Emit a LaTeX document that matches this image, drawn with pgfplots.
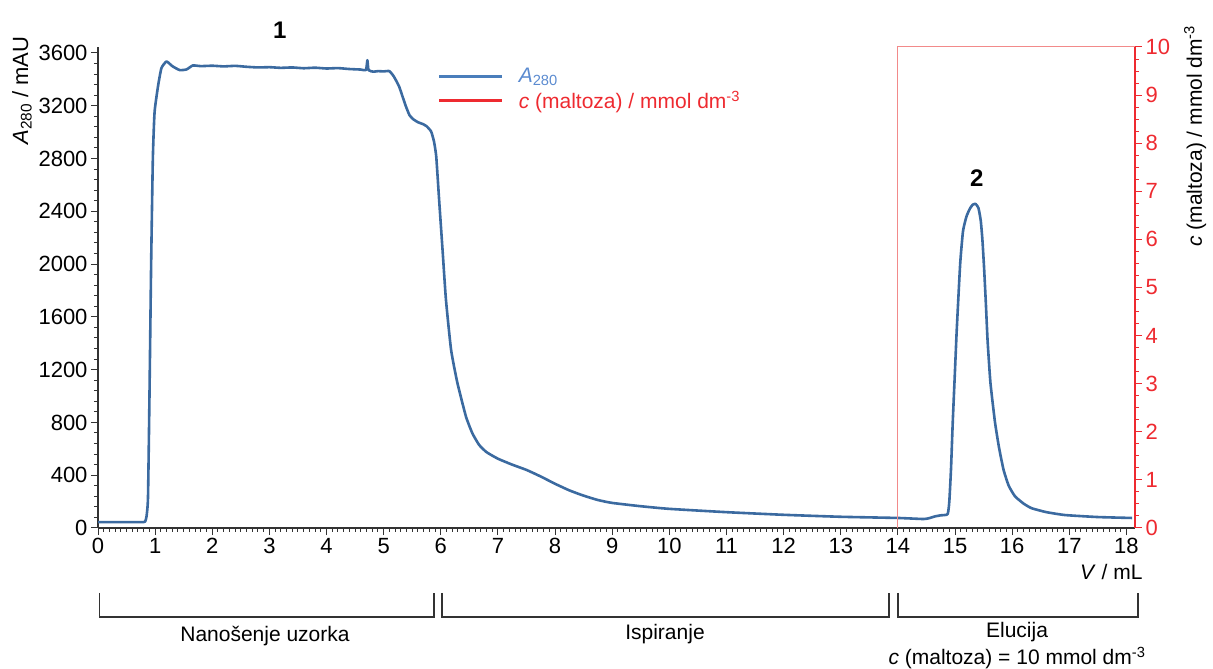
\documentclass[border=0pt]{standalone}
\usepackage{fontspec}
\setmainfont{Liberation Sans}
\usepackage{pgfplots}
\pgfplotsset{compat=1.18}
\usepackage{xcolor}

\definecolor{trace}{HTML}{3B6AA0}
\definecolor{legblue}{HTML}{4A7EBB}
\definecolor{legbluetext}{HTML}{5B8BD0}
\definecolor{cred}{HTML}{EE2A30}
\definecolor{boxred}{HTML}{F28A8A}
\definecolor{axgray}{HTML}{333333}

\newcommand{\ticksize}{\fontsize{22bp}{26bp}\selectfont}
\newcommand{\labsize}{\fontsize{21bp}{25bp}\selectfont}

% A280 trace (V / mL, A / mAU)
\pgfplotstableread{
V A
0 45
0.4 45
0.8 45
0.83 55
0.85 90
0.875 230
0.9 970
0.93 2000
0.96 2800
0.99 3150
1.05 3346
1.11 3485
1.2 3535
1.3 3500
1.43 3470
1.55 3475
1.66 3505
1.8 3500
2.0 3503
2.2 3498
2.4 3502
2.6 3495
2.8 3490
3.0 3492
3.2 3487
3.4 3490
3.6 3484
3.8 3488
4.0 3482
4.2 3485
4.4 3478
4.6 3474
4.69 3470
4.715 3545
4.735 3470
4.82 3458
4.9 3462
5.0 3460
5.1 3462
5.18 3420
5.27 3346
5.33 3270
5.39 3194
5.45 3130
5.51 3100
5.6 3075
5.68 3062
5.75 3045
5.83 3005
5.88 2930
5.92 2815
5.97 2490
6.03 2110
6.09 1730
6.18 1350
6.29 1100
6.44 845
6.55 720
6.67 630
6.8 575
7.0 525
7.25 480
7.5 440
7.75 390
8.0 335
8.25 285
8.5 245
8.75 212
9.0 190
9.5 165
10 145
11 120
12 100
13 85
14 76
14.45 68
14.55 75
14.65 88
14.75 96
14.87 105
14.9 200
14.93 450
14.96 800
15.0 1200
15.03 1500
15.09 2000
15.14 2250
15.2 2360
15.26 2420
15.31 2450
15.36 2456
15.41 2425
15.45 2330
15.48 2180
15.51 1960
15.54 1700
15.57 1420
15.62 1100
15.7 800
15.77 610
15.85 440
15.94 320
16.05 240
16.2 185
16.34 150
16.6 120
16.93 98
17.5 83
18.1 76
}\absdata

\begin{document}
\begin{tikzpicture}
\pgfplotsset{
  base/.style={
    scale only axis,
    width=1037bp, height=481bp,
    at={(98bp,141bp)}, anchor=south west,
    xmin=0, xmax=18.15,
    tick align=outside,
    major tick length=7bp,
    minor tick length=4bp,
    /pgf/number format/assume math mode=true,
    /pgf/number format/1000 sep={},
    scaled ticks=false,
    tick label style={font=\ticksize},
    label style={font=\labsize},
  },
}

% left axis: absorbance
\begin{axis}[
  base,
  axis x line*=bottom,
  axis y line*=left,
  axis line style={color=axgray, line width=1.2bp},
  tick style={color=axgray, line width=1bp},
  ymin=0, ymax=3645,
  xtick={0,...,18},
  minor x tick num=9,
  ytick={0,400,...,3600},
  minor y tick num=4,
  xlabel={\textit{V} / mL},
  xlabel style={at={(axis description cs:1.0106,-0.092)}, anchor=east},
  ylabel={\textit{A}\textsubscript{280} / mAU},
  ylabel style={at={(axis description cs:-0.0733,1.029)}, anchor=east, font=\fontsize{22bp}{26bp}\selectfont},
  clip mode=individual,
]
\addplot[color=trace, line width=2.6bp, line join=round, smooth, tension=0.3] table[x=V, y=A] {\absdata};
\node[font=\fontsize{24bp}{28bp}\selectfont\bfseries] at (axis cs:3.18,3774) {1};
\node[font=\fontsize{24bp}{28bp}\selectfont\bfseries] at (axis cs:15.38,2653) {2};
\end{axis}

% right axis: maltose concentration
\begin{axis}[
  base,
  axis x line=none,
  axis y line*=right,
  axis line style={color=cred, line width=1.2bp},
  tick style={color=cred, line width=1bp},
  yticklabel style={color=cred},
  ymin=0, ymax=10,
  ytick={0,...,10},
  minor y tick num=3,
  ylabel={\textit{c} (maltoza) / mmol dm\textsuperscript{-3}},
  ylabel style={at={(axis description cs:1.058,1.052)}, anchor=east},
  legend cell align=left,
  legend style={
    at={(axis description cs:0.327,0.958)}, anchor=north west,
    draw=none, fill=none, inner sep=0pt, row sep=4.5bp,
    font=\labsize,
    nodes={inner sep=1bp},
  },
  legend image code/.code={\draw[#1] (0bp,0bp) -- (63bp,0bp);},
  /tikz/every odd column/.append style={column sep=14bp},
]
\addlegendimage{color=legblue, line width=3.5bp}
\addlegendentry{\textcolor{legbluetext}{\textit{A}\textsubscript{280}}}
\addplot[color=boxred, line width=1bp, forget plot] coordinates {(14,0) (14,10) (18.15,10)};
\addlegendimage{color=cred, line width=3.5bp}
\addlegendentry{\textcolor{cred}{\textit{c} (maltoza) / mmol dm\textsuperscript{-3}}}
\end{axis}

% phase brackets under the V axis
\draw[color=axgray, line width=1.5bp]
  (99.5bp,76bp) -- (99.5bp,52bp) -- (434bp,52bp) -- (434bp,76bp);
\draw[color=axgray, line width=1.5bp]
  (442bp,76bp) -- (442bp,52bp) -- (889bp,52bp) -- (889bp,76bp);
\draw[color=axgray, line width=1.5bp]
  (898bp,76bp) -- (898bp,52bp) -- (1138bp,52bp) -- (1138bp,76bp);
\node[font=\labsize] at (265bp,33bp) {Nanošenje uzorka};
\node[font=\labsize] at (665bp,35bp) {Ispiranje};
\node[font=\labsize] at (1017bp,37bp) {Elucija};
\node[font=\labsize] at (1017bp,11bp) {\textit{c} (maltoza) = 10 mmol dm\textsuperscript{-3}};

\pgfresetboundingbox
\path[use as bounding box] (0bp,0bp) rectangle (1213bp,669bp);
\end{tikzpicture}
\end{document}
